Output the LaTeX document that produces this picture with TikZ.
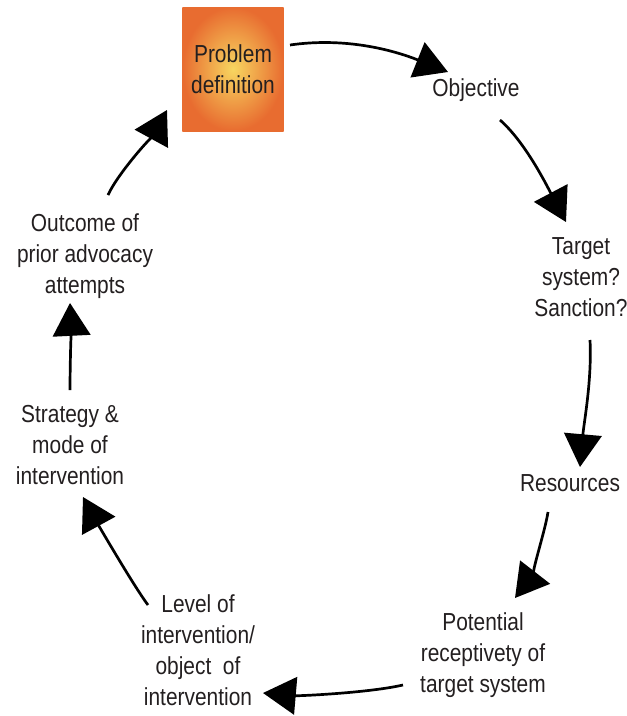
\documentclass[tikz,border=0pt]{standalone}
\usepackage{fontspec}
\setmainfont{Liberation Sans}[FakeStretch=0.85]
\usetikzlibrary{arrows.meta, calc, positioning}

\definecolor{boxedge}{RGB}{232,108,48}
\definecolor{boxmid}{RGB}{247,214,96}
\definecolor{txt}{RGB}{35,31,32}

\begin{document}
\begin{tikzpicture}[x=0.03cm, y=-0.03cm]
    \tikzstyle{step label} = [align=center, inner sep=0pt, text=txt, font=\fontsize{21}{26.5}\selectfont]
    \tikzstyle{problem} = [step label, rectangle, minimum width=3.03cm, minimum height=3.72cm, shading=radial, inner color=boxmid, outer color=boxedge]
    \tikzstyle{arrow} = [line width=2.3pt, -{Triangle[length=28pt, width=32pt]}]

    \useasboundingbox (0,0) rectangle (627,716);

    \node[problem] (problem) at (233,69) {Problem\\definition};
    \node[step label] (objective) at (476,90) {Objective};
    \node[step label] (target) at (581,277) {Target\\system?\\Sanction?};
    \node[step label] (resources) at (570,483) {Resources};
    \node[step label] (receptivity) at (483,655) {Potential\\receptivety of\\target system};
    \node[step label] (level) at (198,650) {Level of\\intervention/\\object\ \ of\\intervention};
    \node[step label] (strategy) at (70,445) {Strategy \&\\mode of\\intervention};
    \node[step label] (outcome) at (85,256) {Outcome of\\prior advocacy\\attempts};

    % the advocacy cycle, clockwise
    \draw[arrow] ($(problem)+(57,-24)$) .. controls +(55,-8) and +(-55,-22) .. ($(objective)+(-28,-18)$);
    \draw[arrow] ($(objective)+(24,30)$) .. controls +(25,22) and +(-20,-38) .. ($(target)+(-15,-55)$);
    \draw[arrow] ($(target)+(9,63)$) .. controls +(2,40) and +(4,-45) .. ($(resources)+(10,-16)$);
    \draw[arrow] ($(resources)+(-22,29)$) .. controls +(-3,20) and +(14,-18) .. ($(receptivity)+(32,-57)$);
    \draw[arrow] ($(receptivity)+(-80,30)$) .. controls +(-35,8) and +(35,3) .. ($(level)+(65,43)$);
    \draw[arrow] ($(level)+(-50,-45)$) .. controls +(-15,-20) and +(12,22) .. ($(strategy)+(13,52)$);
    \draw[arrow] ($(strategy)+(0,-55)$) .. controls +(0,-20) and +(1,20) .. ($(outcome)+(-15,47)$);
    \draw[arrow] ($(outcome)+(23,-61)$) .. controls +(10,-22) and +(-12,22) .. ($(problem)+(-66,41)$);
\end{tikzpicture}
\end{document}
